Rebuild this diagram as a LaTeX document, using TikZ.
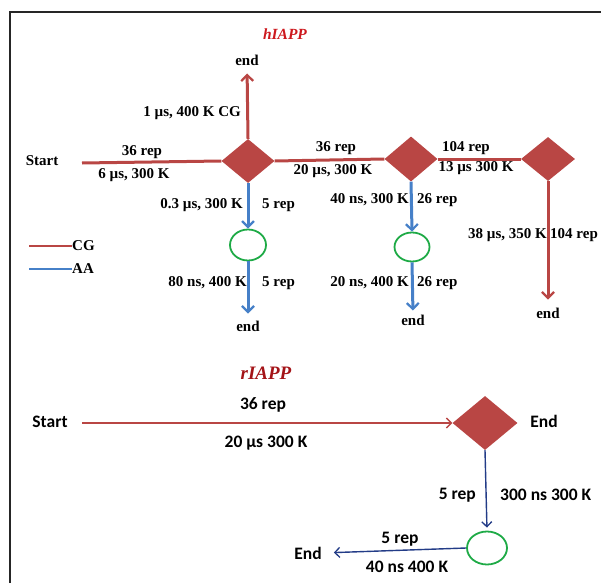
\documentclass[tikz,border=0pt]{standalone}
\usepackage{fontspec}
\setmainfont{Liberation Serif}
\newfontfamily\calfont{Carlito}
\usetikzlibrary{shapes.geometric,arrows.meta}
\definecolor{cgred}{RGB}{185,70,68}
\definecolor{aablue}{RGB}{70,128,200}
\definecolor{navy}{RGB}{35,60,135}
\definecolor{ringgreen}{RGB}{30,170,70}
\definecolor{titlered}{RGB}{205,25,30}
\tikzset{
  lbl/.style={inner sep=0pt, font=\fontsize{15}{17}\selectfont\bfseries},
  blbl/.style={inner sep=0pt, font=\calfont\fontsize{17.5}{19}\selectfont\bfseries},
  dia/.style={diamond, fill=cgred, draw=none, inner sep=0pt, minimum width=#1},
  ring/.style={ellipse, draw=ringgreen, line width=1.8pt, inner sep=0pt},
  cgline/.style={draw=cgred, line width=3pt},
  aaline/.style={draw=aablue, line width=3pt},
  tipbarb/.style={-{Straight Barb[length=6pt,width=12pt,line width=2.2pt]}},
  thinred/.style={draw=cgred, line width=1.4pt, -{Straight Barb[length=5pt,width=10pt,line width=1.3pt]}},
  thinblue/.style={draw=navy, line width=1.4pt, -{Straight Barb[length=5pt,width=10pt,line width=1.3pt]}},
}
\begin{document}
\begin{tikzpicture}[x=1pt,y=-1pt]
\useasboundingbox (0,0) rectangle (601,583);
\draw[line width=1.4pt, black!85] (10,583) -- (10,12) -- (601,12);

% ---------- hIAPP ----------
\node[inner sep=0pt, text=titlered, font=\fontsize{15.5}{17}\selectfont\bfseries\itshape] (th) at (285,34) {hIAPP};

\node[dia=53pt, minimum height=44pt] (d1) at (248,161) {};
\node[dia=53pt, minimum height=45pt] (d2) at (411,159) {};
\node[dia=54pt, minimum height=44pt] (d3) at (548,159) {};
\node[ring, minimum width=36pt, minimum height=31pt] (e1) at (248,245) {};
\node[ring, minimum width=35pt, minimum height=29pt] (e2) at (412,247) {};

\node[lbl] (start1) at (42,161) {Start};
\coordinate (s1) at (82,163);
\node[lbl] (endtop) at (247,60) {end};
\node[lbl] (end1) at (248,326) {end};
\node[lbl] (end2) at (413,320) {end};
\node[lbl] (end3) at (548,313) {end};

\draw[cgline] (s1) -- (d1.west);
\draw[cgline] (d1.east) -- (d2.west);
\draw[cgline] (d2.east) -- (d3.west);
\draw[cgline, tipbarb, shorten >=8pt] (d1.north) -- (endtop.south);
\draw[cgline, tipbarb, shorten >=8pt] (d3.south) -- (end3.north);
\draw[aaline, tipbarb] (d1.south) -- (e1.north);
\draw[aaline, tipbarb, shorten >=7pt] (e1.south) -- (end1.north);
\draw[aaline, tipbarb] (d2.south) -- (e2.north);
\draw[aaline, tipbarb, shorten >=4pt] (e2.south) -- (end2.north);

\node[lbl, anchor=east] (l1) at (241,113) {1 µs, 400 K CG};
\node[lbl] (l2) at (142,152) {36 rep};
\node[lbl] (l3) at (134,175) {6 µs, 300 K};
\node[lbl] (l4) at (336,148) {36 rep};
\node[lbl] (l5) at (333,171) {20 µs, 300 K};
\node[lbl] (l6) at (466,148) {104 rep};
\node[lbl] (l7) at (476,168) {13 µs 300 K};
\node[lbl, anchor=east] (l8) at (243,205) {0.3 µs, 300 K};
\node[lbl, anchor=west] (l9) at (262,205) {5 rep};
\node[lbl, anchor=east] (l10) at (247,283) {80 ns, 400 K};
\node[lbl, anchor=west] (l11) at (262,283) {5 rep};
\node[lbl, anchor=east] (l12) at (409,200) {40 ns, 300 K};
\node[lbl, anchor=west] (l13) at (417,200) {26 rep};
\node[lbl, anchor=east] (l14) at (409,283) {20 ns, 400 K};
\node[lbl, anchor=west] (l15) at (417,283) {26 rep};
\node[lbl, anchor=east] (l16) at (547,235) {38 µs, 350 K};
\node[lbl, anchor=west] (l17) at (550,235) {104 rep};

% legend
\node[lbl, anchor=west] (cg) at (72,246) {CG};
\node[lbl, anchor=west] (aa) at (72,269) {AA};
\coordinate (cgs) at (29,246);
\coordinate (aas) at (29,269);
\draw[draw=cgred, line width=2.2pt] (cgs) -- (cg.west);
\draw[draw=aablue, line width=2.2pt] (aas) -- (aa.west);

% ---------- rIAPP ----------
\node[inner sep=0pt, text=titlered!80!black, font=\fontsize{19}{21}\selectfont\bfseries\itshape] (tr) at (266,373) {rIAPP};

\node[blbl] (start2) at (50,422) {Start};
\coordinate (s2) at (82,423);
\node[dia=65pt, minimum height=54pt] (d4) at (485,423) {};
\node[blbl] (endr) at (544,421) {End};
\node[ring, minimum width=40pt, minimum height=33pt] (e3) at (487,548) {};
\node[blbl] (endb) at (308,553) {End};

\draw[thinred] (s2) -- (d4.west);
\draw[thinblue, shorten >=3pt] (d4.south) -- (e3.north);
\draw[thinblue, shorten >=12pt] (e3.west) -- (endb.east);

\node[blbl] (b1) at (263,405) {36 rep};
\node[blbl] (b2) at (266,443) {20 µs 300 K};
\node[blbl, anchor=east] (b3) at (476,495) {5 rep};
\node[blbl, anchor=west] (b4) at (500,495) {300 ns 300 K};
\node[blbl] (b5) at (400,539) {5 rep};
\node[blbl] (b6) at (407,567) {40 ns 400 K};
\end{tikzpicture}
\end{document}
